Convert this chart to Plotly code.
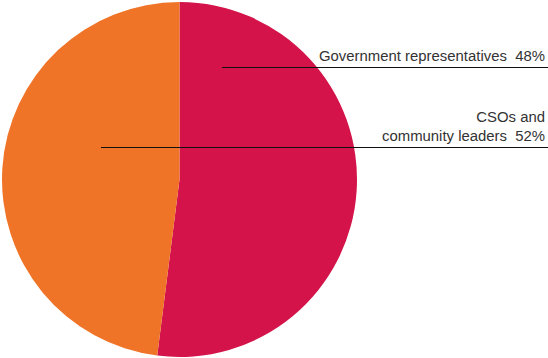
import plotly.graph_objects as go

categories = ["CSOs and community leaders", "Government representatives"]
values = [52, 48]
colors = ["#D4134A", "#F07427"]
label_texts = ["CSOs and<br>community leaders&nbsp;&nbsp;52%", "Government representatives&nbsp;&nbsp;48%"]

W, H = 548, 358
fig = go.Figure(go.Pie(
    labels=categories, values=values, sort=False, direction="clockwise",
    rotation=0, marker=dict(colors=colors, line=dict(width=0)),
    textinfo="none", hoverinfo="label+percent", showlegend=False,
    domain=dict(x=[2 / W, 357 / W], y=[1 / H, 356 / H]),
))

# leader lines (paper coords)
fig.add_shape(type="line", xref="paper", yref="paper",
              x0=222 / W, x1=1, y0=1 - 67.5 / H, y1=1 - 67.5 / H,
              line=dict(color="#111", width=1.2))
fig.add_shape(type="line", xref="paper", yref="paper",
              x0=101 / W, x1=1, y0=1 - 147.5 / H, y1=1 - 147.5 / H,
              line=dict(color="#111", width=1.2))

font = dict(family="Liberation Sans, Arial", size=14.9, color="#333")
fig.add_annotation(text=label_texts[1], xref="paper", yref="paper",
                   x=547 / W, y=1 - 66 / H, xanchor="right", yanchor="bottom",
                   showarrow=False, align="right", font=font)
fig.add_annotation(text=label_texts[0], xref="paper", yref="paper",
                   x=547 / W, y=1 - 146 / H, xanchor="right", yanchor="bottom",
                   showarrow=False, align="right", font=font)

fig.update_layout(width=W, height=H, margin=dict(l=0, r=0, t=0, b=0),
                  paper_bgcolor="white", plot_bgcolor="white")
fig.write_html("out.html")
